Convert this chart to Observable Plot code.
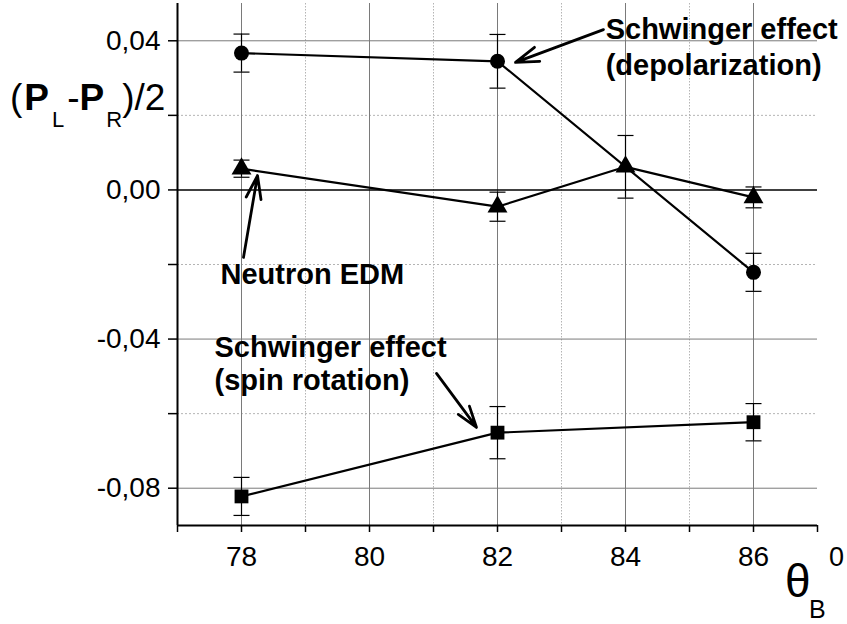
<!DOCTYPE html>
<html><head><meta charset="utf-8">
<script src="https://cdn.jsdelivr.net/npm/d3@7"></script>
<script src="https://cdn.jsdelivr.net/npm/@observablehq/plot@0.6"></script>
<style>body{margin:0;background:#fff;} svg{display:block;}</style>
</head><body><div id="chart"></div>
<script>
// Schwinger effect (depolarization) – circles
const depolX = [78, 82, 86];
const depolY = [0.0367, 0.0345, -0.0221];
const depolErr = [0.0051, 0.0072, 0.0051];
// Neutron EDM – triangles
const edmX = [78, 82, 84, 86];
const edmY = [0.0057, -0.0045, 0.0062, -0.0020];
const edmErr = [0.0023, 0.0039, 0.0084, 0.0028];
// Schwinger effect (spin rotation) – squares
const spinX = [78, 82, 86];
const spinY = [-0.0822, -0.0651, -0.0623];
const spinErr = [0.0051, 0.0070, 0.0050];

const xTicks = [77, 78, 79, 80, 81, 82, 83, 84, 85, 86, 87];
const xMajor = [78, 80, 82, 84, 86];
const xMinor = [79, 81, 83, 85];
const yTicks = [0.04, 0.02, 0, -0.02, -0.04, -0.06, -0.08];
const yMajor = [0.04, 0, -0.04, -0.08];
const yMinor = [0.02, -0.02, -0.06];

const noteText = ["Schwinger effect", "(depolarization)", "Neutron EDM", "Schwinger effect", "(spin rotation)"];
const noteX = [83.69, 83.69, 77.672, 77.578, 77.578];
const noteY = [0.0406, 0.0307, -0.0251, -0.0449, -0.0536];

const arrowX1 = [83.656, 78.031, 81.047];
const arrowY1 = [0.0430, -0.0181, -0.0492];
const arrowX2 = [82.281, 78.25, 81.672];
const arrowY2 = [0.0342, 0.00386, -0.0637];

const rows = (xs, ys, es) => xs.map((x, i) => ({x, y: ys[i], e: es[i]}));
const depol = rows(depolX, depolY, depolErr);
const edm = rows(edmX, edmY, edmErr);
const spin = rows(spinX, spinY, spinErr);
const all = [...depol, ...edm, ...spin];
const caps = all.flatMap(d => [{x: d.x, y: d.y + d.e}, {x: d.x, y: d.y - d.e}]);
const notes = noteText.map((t, i) => ({t, x: noteX[i], y: noteY[i]}));
const arrows = arrowX1.map((x1, i) => ({x1, y1: arrowY1[i], x2: arrowX2[i], y2: arrowY2[i]}));

const isIn = (arr, v) => arr.some(a => Math.abs(a - v) < 1e-9);
const fmt = d => (d < 0 ? "-" : "") + Math.abs(d).toFixed(2).replace(".", ",");
const capSymbol = {draw(ctx) { ctx.moveTo(-8, 0); ctx.lineTo(8, 0); }};
const FONT = "'Liberation Sans', Arial, sans-serif";

const chart = Plot.plot({
  width: 847, height: 624,
  marginLeft: 177, marginRight: 30, marginTop: 3, marginBottom: 99,
  x: {domain: [77, 87]},
  y: {domain: [-0.09, 0.05]},
  style: {fontFamily: FONT, background: "#fff", color: "#000"},
  marks: [
    Plot.ruleX(xMinor, {stroke: "#b4b4b4", strokeWidth: 1, strokeDasharray: "1.5,1.5"}),
    Plot.ruleY(yMinor, {stroke: "#b4b4b4", strokeWidth: 1, strokeDasharray: "2,2"}),
    Plot.ruleX(xMajor, {stroke: "#7a7a7a", strokeWidth: 1}),
    Plot.ruleY(yMajor.filter(v => v !== 0), {stroke: "#7a7a7a", strokeWidth: 1}),
    Plot.ruleY([0], {stroke: "#000", strokeWidth: 1.6}),
    Plot.ruleX(all, {x: "x", y1: d => d.y - d.e, y2: d => d.y + d.e, stroke: "#000", strokeWidth: 1.2}),
    Plot.dot(caps, {x: "x", y: "y", symbol: capSymbol, fill: "none", stroke: "#000", strokeWidth: 1.2}),
    Plot.line(depol, {x: "x", y: "y", stroke: "#000", strokeWidth: 2.2}),
    Plot.line(edm, {x: "x", y: "y", stroke: "#000", strokeWidth: 2.2}),
    Plot.line(spin, {x: "x", y: "y", stroke: "#000", strokeWidth: 2.2}),
    Plot.dot(depol, {x: "x", y: "y", symbol: "circle", r: 7.5, fill: "#000"}),
    Plot.dot(edm, {x: "x", y: "y", symbol: "triangle", r: 7.4, fill: "#000"}),
    Plot.dot(spin, {x: "x", y: "y", symbol: "square", r: 7.8, fill: "#000"}),
    Plot.arrow(arrows, {x1: "x1", y1: "y1", x2: "x2", y2: "y2", stroke: "#000", strokeWidth: 2.8, headLength: 13, headAngle: 36}),
    Plot.text(notes, {x: "x", y: "y", text: "t", textAnchor: "start", lineAnchor: "bottom", fontSize: 29, fontWeight: "bold", fill: "#000"}),
    Plot.ruleX([77], {stroke: "#000", strokeWidth: 2}),
    Plot.ruleY([-0.09], {stroke: "#000", strokeWidth: 2}),
    Plot.axisX({ticks: xTicks, tickSize: 7, tickPadding: 14, strokeWidth: 1.5, fontSize: 28, label: null,
      tickFormat: d => isIn(xMajor, d) ? String(d) : ""}),
    Plot.axisY({ticks: yTicks, tickSize: 9, tickPadding: 8, strokeWidth: 1.5, fontSize: 28, label: null,
      tickFormat: d => isIn(yMajor, d) ? fmt(d) : ""})
  ]
});
document.getElementById("chart").appendChild(chart);

// axis titles
const svg = d3.select(chart);
const yl = svg.append("text").attr("x", 10).attr("y", 110).attr("text-anchor", "start")
  .attr("font-family", FONT).attr("font-size", 37).attr("fill", "#000");
yl.append("tspan").text("(");
yl.append("tspan").attr("font-weight", "bold").attr("dx", 2).text("P");
yl.append("tspan").attr("font-size", 22).attr("dy", 17).attr("dx", 3).text("L");
yl.append("tspan").attr("dy", -17).attr("dx", 3).text("-");
yl.append("tspan").attr("font-weight", "bold").text("P");
yl.append("tspan").attr("font-size", 22).attr("dy", 17).attr("dx", 2).text("R");
yl.append("tspan").attr("dy", -17).text(")/2");

const xl = svg.append("text").attr("text-anchor", "start").attr("font-family", FONT).attr("fill", "#000");
xl.append("tspan").attr("x", 785).attr("y", 597).attr("font-size", 46).text("θ");
xl.append("tspan").attr("x", 809).attr("y", 618).attr("font-size", 25).text("B");
svg.append("text").attr("x", 829).attr("y", 566).attr("font-size", 27).attr("text-anchor", "start")
  .attr("font-family", FONT).attr("fill", "#000").text("0");
</script>
</body></html>
